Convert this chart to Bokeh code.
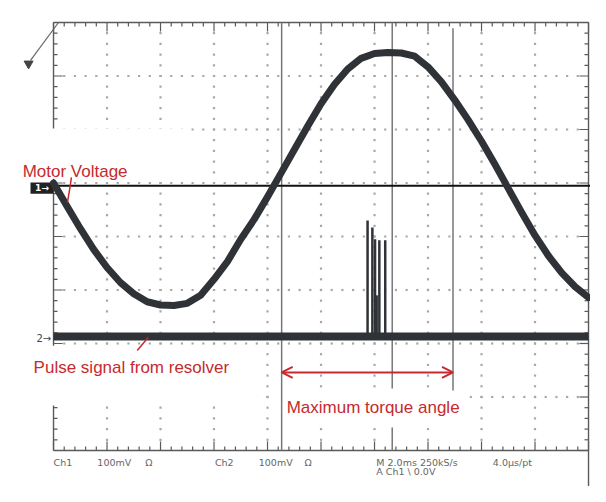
from bokeh.plotting import figure
from bokeh.models import Arrow, OpenHead, Range1d
from bokeh.embed import file_html
from bokeh.resources import INLINE
from bokeh.core.properties import value
import numpy as np

# ---- data (time and amplitude in screen divisions) ----
motor_t = [0.0, 0.25, 0.5, 0.75, 1.0, 1.25, 1.5, 1.75, 2.0, 2.25, 2.5, 2.75, 3.0, 3.25,
           3.5, 3.75, 4.0, 4.25, 4.5, 4.75, 5.0, 5.25, 5.5, 5.75, 6.0, 6.25, 6.5, 6.75,
           7.0, 7.25, 7.5, 7.75, 8.0, 8.25, 8.5, 8.75, 9.0, 9.25, 9.5, 9.75, 10.0]
motor_v = [1.00, 0.57, 0.15, -0.24, -0.58, -0.86, -1.07, -1.22, -1.28, -1.29, -1.25, -1.10,
           -0.80, -0.47, -0.05, 0.32, 0.74, 1.18, 1.62, 2.06, 2.48, 2.84, 3.13, 3.33, 3.42,
           3.44, 3.43, 3.37, 3.17, 2.89, 2.55, 2.18, 1.78, 1.35, 0.90, 0.45, 0.02, -0.36,
           -0.68, -0.94, -1.14]
pulse_t = [0.0, 10.0]
pulse_v = [-1.87, -1.87]
spike_t = [5.87, 5.96, 6.01, 6.04, 6.09, 6.20]
spike_top = [0.30, 0.17, -0.05, -1.10, -0.07, -0.07]
ch1_level = 0.95
ch2_level = -1.87
cursor_x = [4.264, 6.331, 7.467]
cursor_top = [4.0, 4.0, 3.89]
cursor_bottom = [-4.0, -2.84, -2.88]

status_text = ["Ch1", "100mV", "Ω", "Ch2", "100mV", "Ω", "M 2.0ms 250kS/s", "A Ch1  \\  0.0V", "4.0µs/pt"]
status_x = [0.0, 0.819, 1.713, 3.017, 3.836, 4.693, 6.034, 6.034, 8.212]
status_y = [-4.224, -4.224, -4.224, -4.224, -4.224, -4.224, -4.224, -4.393, -4.224]

RED = "#c62a2e"
TRACE = "#2f3337"
GRID = "#5a5a5a"

p = figure(width=590, height=486, x_range=Range1d(-0.991, 10.037), y_range=Range1d(-4.673, 4.411),
           output_backend="svg", toolbar_location=None, min_border=0,
           x_axis_type=None, y_axis_type=None)
p.grid.visible = False
p.outline_line_color = None
p.background_fill_color = "white"
p.border_fill_color = "white"

# ---- graticule ----
xs = np.round(np.arange(0, 10.001, 0.2), 3)
ys = np.round(np.arange(-4, 4.001, 0.2), 3)
lx = [0.17 if abs(v - round(v)) < 1e-6 else 0.075 for v in xs]
ly = [0.17 if abs(v - round(v)) < 1e-6 else 0.075 for v in ys]

# dotted interior grid
dx, dy = [], []
for gx in range(1, 10):
    for yy in ys[1:-1]:
        dx.append(gx); dy.append(yy)
for gy in range(-3, 4):
    for xx in xs[1:-1]:
        dx.append(xx); dy.append(gy)
p.scatter(dx, dy, size=2.2, marker="square", color="#a8a8a8", line_color=None)

# border
p.segment(x0=[0, 0, 0, 10], y0=[4, -4, -4, -4], x1=[10, 10, 0, 10], y1=[4, -4, 4, 4],
          line_color=GRID, line_width=1.4)
p.segment(x0=[10.0], y0=[-4.0], x1=[10.0], y1=[-4.78], line_color=GRID, line_width=1.4)
# edge ticks
p.segment(x0=list(xs), y0=[4] * len(xs), x1=list(xs), y1=[4 - l for l in lx], line_color=GRID, line_width=1.2)
p.segment(x0=list(xs), y0=[-4] * len(xs), x1=list(xs), y1=[-4 + l for l in lx], line_color=GRID, line_width=1.2)
p.segment(x0=[0] * len(ys), y0=list(ys), x1=[l for l in ly], y1=list(ys), line_color=GRID, line_width=1.2)
p.segment(x0=[10] * len(ys), y0=list(ys), x1=[10 - l for l in ly], y1=list(ys), line_color=GRID, line_width=1.2)

# trigger indicator top-left
p.segment(x0=[0.093], y0=[4.0], x1=[-0.43], y1=[3.29], line_color="#666666", line_width=1.2)
p.scatter([-0.466], [3.23], marker="inverted_triangle", size=9, color="#444444")

# white label patches pasted over the screen
p.quad(left=[-0.99, -0.99, 4.13], right=[2.55, 3.82, 7.77], top=[2.02, -2.04, -2.84],
       bottom=[1.08, -3.16, -3.53], color="white", line_color=None)

# cursors
p.segment(x0=cursor_x, y0=cursor_top, x1=cursor_x, y1=cursor_bottom, line_color="#777777", line_width=1.5)
p.segment(x0=[cursor_x[1]], y0=[-3.57], x1=[cursor_x[1]], y1=[-4.0], line_color="#777777", line_width=1.5)

# channel reference line and markers
p.segment(x0=[0.0], y0=[ch1_level], x1=[10.04], y1=[ch1_level], line_color="#111111", line_width=2)
p.quad(left=[-0.43], right=[0.0], top=[1.01], bottom=[0.80], color="#222222", line_color=None)
p.text(x=[-0.215], y=[0.905], text=["1→"], text_color="white", text_font=value("DejaVu Sans"),
       text_font_size="9px", text_font_style="bold", text_align="center", text_baseline="middle")
p.text(x=[-0.32], y=[ch2_level - 0.03], text=["2→"], text_color="#444444", text_font=value("DejaVu Sans"),
       text_font_size="10px", text_align="left", text_baseline="middle")

# traces
p.line(pulse_t, pulse_v, line_color=TRACE, line_width=8)
p.segment(x0=spike_t, y0=[ch2_level] * len(spike_t), x1=spike_t, y1=spike_top,
          line_color=TRACE, line_width=2.5)
p.line(motor_t, motor_v, line_color=TRACE, line_width=7, line_join="round", line_cap="round")

# annotations
p.text(x=[-0.577, -0.372, 4.358], y=[1.215, -2.45, -3.196],
       text=["Motor Voltage", "Pulse signal from resolver", "Maximum torque angle"],
       text_color=RED, text_font=value("Liberation Sans"), text_font_size="17px",
       text_align="left", text_baseline="alphabetic")
p.line([0.335, 0.30, 0.261], [1.103, 0.87, 0.636], line_color=RED, line_width=1.5)
p.segment(x0=[1.564], y0=[-2.131], x1=[1.769], y1=[-1.888], line_color=RED, line_width=1.5)
p.add_layout(Arrow(start=OpenHead(size=11, line_color=RED, line_width=2),
                   end=OpenHead(size=11, line_color=RED, line_width=2),
                   x_start=cursor_x[0], y_start=-2.54, x_end=cursor_x[2], y_end=-2.54,
                   line_color=RED, line_width=2))

# status line
p.text(x=status_x, y=status_y, text=status_text, text_color="#666666",
       text_font=value("DejaVu Sans"), text_font_size="9.5px", text_align="left", text_baseline="middle")

open("out.html", "w").write(file_html(p, INLINE))
